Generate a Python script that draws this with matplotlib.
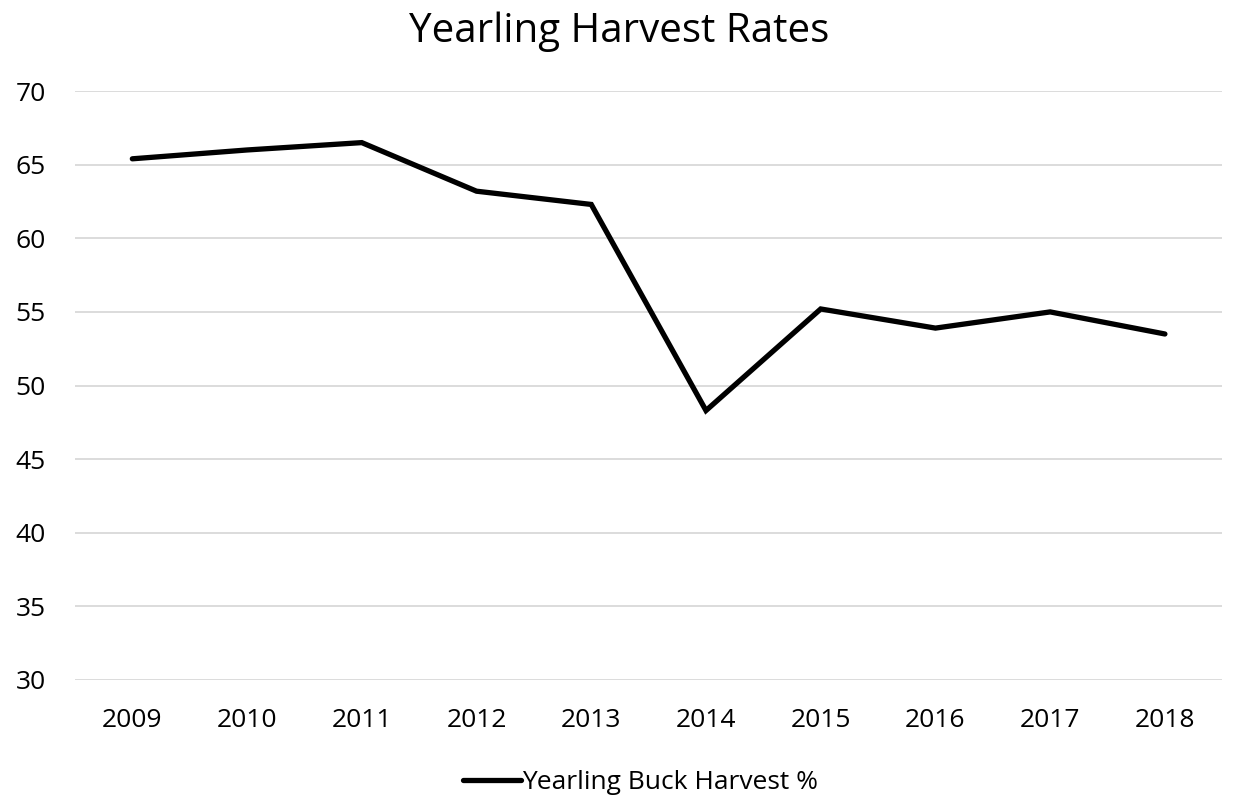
import matplotlib
matplotlib.use('Agg')
import matplotlib.pyplot as plt

years = ['2009', '2010', '2011', '2012', '2013', '2014', '2015', '2016', '2017', '2018']
harvest = [65.4, 66.0, 66.5, 63.2, 62.3, 48.3, 55.2, 53.9, 55.0, 53.5]
yticks = [30, 35, 40, 45, 50, 55, 60, 65, 70]

plt.rcParams['font.family'] = ['Open Sans', 'DejaVu Sans']

fig = plt.figure(figsize=(12.39, 7.99), dpi=100)
ax = fig.add_axes([0.0605, 0.149, 0.926, 0.737])

x = list(range(len(years)))
ax.plot(x, harvest, color='black', linewidth=3.8, solid_joinstyle='miter',
        solid_capstyle='round', label='Yearling Buck Harvest %')

ax.set_xlim(-0.5, len(years) - 0.5)
ax.set_ylim(30, 70)
ax.set_yticks(yticks)
ax.set_xticks(x)
ax.set_xticklabels(years)
ax.grid(axis='y', color='#d9d9d9', linewidth=1.3)
ax.set_axisbelow(True)
for s in ax.spines.values():
    s.set_visible(False)
ax.tick_params(length=0, labelsize=19, pad=20)
ax.tick_params(axis='y', pad=21)

fig.suptitle('Yearling Harvest Rates', fontsize=29, y=0.985)
fig.legend(loc='lower center', bbox_to_anchor=(0.517, -0.025), frameon=False,
           fontsize=19, handlelength=2.2, handletextpad=0.05)

fig.savefig('out.png', dpi=100)
